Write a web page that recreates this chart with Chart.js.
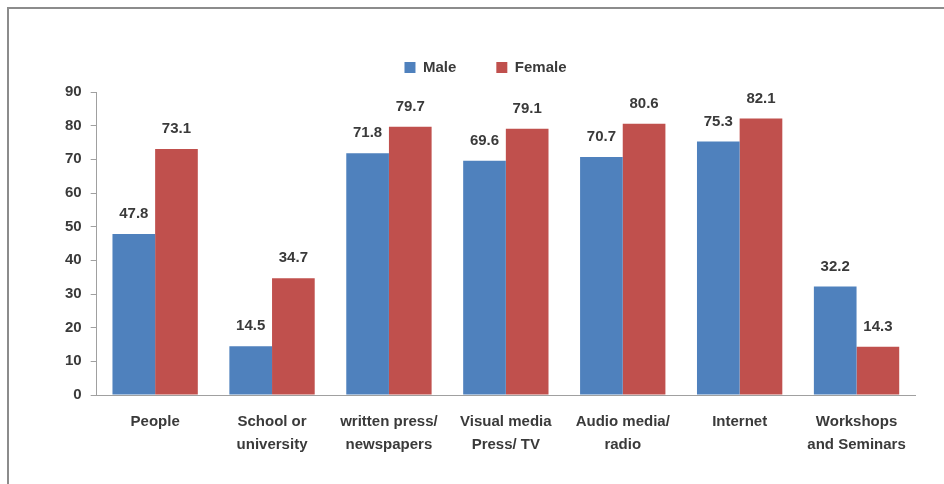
<!DOCTYPE html>
<html>
<head>
<meta charset="utf-8">
<script src="https://cdn.jsdelivr.net/npm/chart.js@4"></script>
<style>
  html, body { margin: 0; padding: 0; background: #fff; }
  #wrap { width: 944px; height: 484px; }
</style>
</head>
<body>
<div id="wrap"><canvas id="c" width="944" height="484"></canvas></div>
<script>
// Sources of information, by gender (%)
const categories = [
  ['People'],
  ['School or', 'university'],
  ['written press/', 'newspapers'],
  ['Visual media', 'Press/ TV'],
  ['Audio media/', 'radio'],
  ['Internet'],
  ['Workshops', 'and Seminars']
];
const maleValues   = [47.8, 14.5, 71.8, 69.6, 70.7, 75.3, 32.2];
const femaleValues = [73.1, 34.7, 79.7, 79.1, 80.6, 82.1, 14.3];
const yTicks = [0, 10, 20, 30, 40, 50, 60, 70, 80, 90];

const TEXT = '#3a3a3a';
const FONT = 'Liberation Sans';

// Frame lines along the top and left edges of the figure
const framePlugin = {
  id: 'frame',
  beforeDraw(chart) {
    const ctx = chart.ctx;
    ctx.save();
    ctx.fillStyle = '#fff';
    ctx.fillRect(0, 0, chart.width, chart.height);
    ctx.strokeStyle = '#8c8c8c';
    ctx.lineWidth = 2;
    ctx.beginPath();
    ctx.moveTo(8, chart.height);
    ctx.lineTo(8, 8);
    ctx.lineTo(chart.width, 8);
    ctx.stroke();
    ctx.restore();
  }
};

// Extra room between the legend and the plot
const legendGap = {
  id: 'legendGap',
  afterInit(chart) {
    const lg = chart.legend;
    if (!lg) return;
    const fit = lg.fit;
    lg.fit = function () { fit.call(this); this.height += 7; };
  }
};

// Value labels above each bar
const valueLabels = {
  id: 'valueLabels',
  afterDatasetsDraw(chart) {
    const ctx = chart.ctx;
    ctx.save();
    ctx.font = 'bold 15px "' + FONT + '"';
    ctx.fillStyle = TEXT;
    ctx.textAlign = 'center';
    ctx.textBaseline = 'middle';
    chart.data.datasets.forEach((ds, i) => {
      chart.getDatasetMeta(i).data.forEach((bar, j) => {
        ctx.fillText(ds.data[j].toFixed(1), bar.x, bar.y - 20);
      });
    });
    ctx.restore();
  }
};

new Chart(document.getElementById('c'), {
  type: 'bar',
  data: {
    labels: categories,
    datasets: [
      { label: 'Male', data: maleValues, backgroundColor: '#4F81BD', borderWidth: 0 },
      { label: 'Female', data: femaleValues, backgroundColor: '#C0504D', borderWidth: 0 }
    ]
  },
  options: {
    responsive: false,
    animation: false,
    devicePixelRatio: 1,
    layout: { padding: { top: 20, right: 29, left: 56, bottom: 12 } },
    plugins: {
      legend: {
        position: 'top',
        align: 'center',
        labels: {
          boxWidth: 11, boxHeight: 11, padding: 40,
          color: TEXT,
          font: { family: FONT, size: 15, weight: 'bold' }
        }
      },
      tooltip: { enabled: false }
    },
    datasets: {
      bar: { categoryPercentage: 0.73, barPercentage: 1.0 }
    },
    scales: {
      x: {
        grid: { display: false, drawTicks: false },
        border: { color: '#a0a0a0', width: 1 },
        ticks: {
          color: TEXT, padding: 16, maxRotation: 0, autoSkip: false,
          font: { family: FONT, size: 15, weight: 'bold', lineHeight: 1.5 }
        }
      },
      y: {
        min: 0, max: 90,
        afterBuildTicks(axis) { axis.ticks = yTicks.map(v => ({ value: v })); },
        grid: { display: true, drawOnChartArea: false, drawTicks: true, tickLength: 6, color: '#a0a0a0' },
        border: { color: '#a0a0a0', width: 1 },
        ticks: {
          color: TEXT, padding: 9,
          font: { family: FONT, size: 15, weight: 'bold' }
        }
      }
    }
  },
  plugins: [framePlugin, legendGap, valueLabels]
});
</script>
</body>
</html>
